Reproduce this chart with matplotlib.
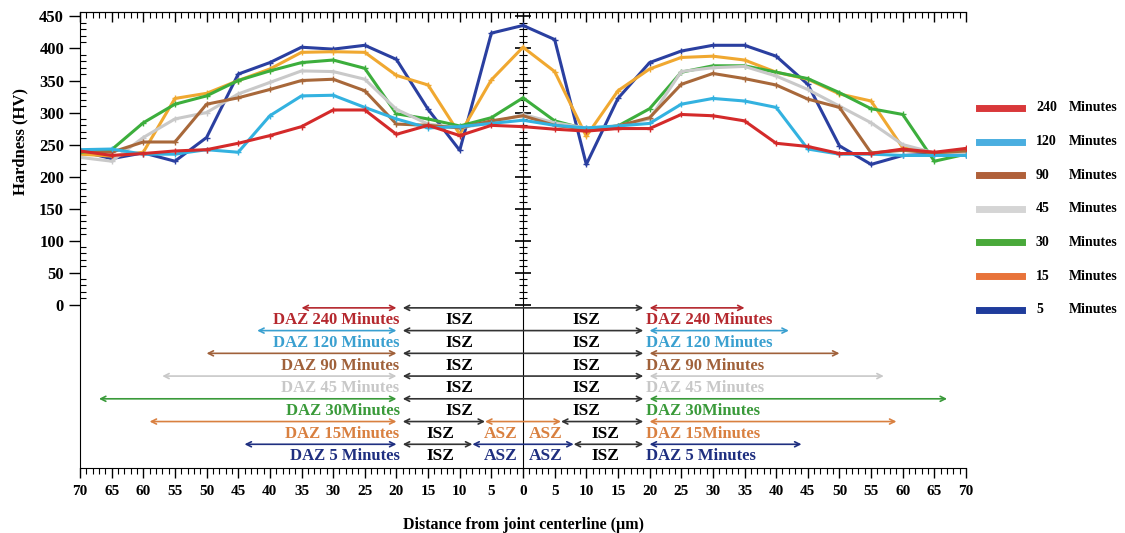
import numpy as np
import matplotlib
matplotlib.use("Agg")
import matplotlib.pyplot as plt
from matplotlib.ticker import MultipleLocator, FuncFormatter
from matplotlib.lines import Line2D

plt.rcParams["font.family"] = ["Liberation Serif", "DejaVu Serif"]
plt.rcParams["font.weight"] = "bold"

# distanza dal centro del giunto (um), un punto ogni 5
distance = list(range(-70, 71, 5))

hv_240 = [240, 233, 236, 240, 242, 252, 264, 278, 304, 304, 266, 280, 264, 280, 278,
          274, 271, 275, 275, 297, 295, 287, 252, 247, 236, 236, 243, 238, 244]
hv_120 = [242, 243, 235, 235, 242, 238, 295, 326, 327, 308, 290, 276, 278, 283, 288,
          280, 276, 279, 283, 313, 322, 318, 308, 243, 235, 235, 233, 233, 233]
hv_90 = [240, 238, 254, 254, 313, 323, 336, 350, 352, 334, 282, 280, 276, 287, 295,
         280, 274, 279, 292, 344, 361, 353, 343, 321, 308, 237, 241, 237, 240]
hv_45 = [230, 224, 261, 290, 300, 329, 347, 365, 364, 352, 305, 282, 276, 284, 297,
         284, 276, 279, 290, 364, 370, 372, 357, 336, 310, 284, 250, 237, 237]
hv_30 = [238, 242, 284, 313, 326, 350, 365, 378, 382, 369, 298, 290, 279, 292, 323,
         287, 274, 279, 306, 363, 373, 373, 363, 353, 331, 306, 297, 224, 235]
hv_15 = [235, 232, 238, 322, 330, 350, 368, 394, 395, 394, 358, 343, 266, 351, 402,
         364, 263, 334, 368, 386, 388, 382, 363, 352, 329, 318, 245, 237, 240]
hv_5 = [240, 228, 237, 224, 261, 360, 378, 402, 399, 405, 383, 305, 241, 424, 436,
        414, 219, 322, 378, 396, 405, 405, 388, 344, 248, 219, 233, 235, 233]

times = ["240", "120", "90", "45", "30", "15", "5"]
series = [hv_240, hv_120, hv_90, hv_45, hv_30, hv_15, hv_5]
line_colors = ["#d42a2a", "#33b2e0", "#a8683a", "#c9c9c9", "#3cae3c", "#f0a830", "#2a3fa0"]
legend_colors = ["#d9383a", "#4aaee0", "#b0603a", "#d5d5d5", "#49a93a", "#e8733a", "#1f3c9c"]
text_colors = ["#b5282e", "#3aa0d0", "#a0613a", "#c8c8c8", "#3a9a3a", "#d98040", "#1f2f80"]

# zone sotto lo zero: estensione della DAZ e semi-ampiezza della ASZ (0 = assente)
daz_labels = ["DAZ 240 Minutes", "DAZ 120 Minutes", "DAZ 90 Minutes", "DAZ 45 Minutes",
              "DAZ 30Minutes", "DAZ 15Minutes", "DAZ 5 Minutes"]
daz_outer = [35, 42, 50, 57, 67, 59, 44]
isz_edge = 20
asz_half = [0, 0, 0, 0, 0, 6, 8]

fig = plt.figure(figsize=(11.25, 5.33), dpi=100)
ax = fig.add_axes([0.0711, 0.122, 0.7876, 0.8555])

for ys, c in zip(series[::-1], line_colors[::-1]):
    ax.plot(distance, ys, color=c, lw=2.2, marker="+", ms=4, mew=1)

ax.set_xlim(-70, 70)
ax.set_ylim(-255, 457)

# asse x: tacche sotto (fuori), sopra (dentro) con un asse secondario
ax.xaxis.set_major_locator(MultipleLocator(5))
ax.xaxis.set_minor_locator(MultipleLocator(1))
ax.xaxis.set_major_formatter(FuncFormatter(lambda v, p: f"{abs(int(round(v)))}"))
ax.tick_params(axis="x", which="major", direction="out", length=7, width=1,
               labelsize=11, pad=5)
ax.tick_params(axis="x", which="minor", direction="out", length=4, width=0.8)
ax.set_yticks(range(0, 451, 50))
ax.set_yticks([v for v in range(0, 451, 10) if v % 50], minor=True)
ax.tick_params(axis="y", which="major", direction="out", length=8, width=1, labelsize=12)
ax.tick_params(axis="y", which="minor", direction="in", length=4, width=0.8)
ax.spines["right"].set_visible(False)

top = ax.secondary_xaxis("top")
top.xaxis.set_major_locator(MultipleLocator(5))
top.xaxis.set_minor_locator(MultipleLocator(1))
top.tick_params(which="major", direction="in", length=7, width=1, labeltop=False)
top.tick_params(which="minor", direction="in", length=4, width=0.8)

# linea centrale del giunto con tacche
mid = ax.secondary_yaxis(0.5)
mid.set_yticks(range(0, 451, 50))
mid.set_yticks([v for v in range(0, 451, 10) if v % 50], minor=True)
mid.tick_params(which="major", direction="inout", length=11, width=1.2,
                labelleft=False, labelright=False)
mid.tick_params(which="minor", direction="inout", length=6, width=0.8)

ax.set_ylabel("Hardness (HV)", fontsize=12, fontweight="bold")
ax.yaxis.set_label_coords(-0.058, 0.715)
ax.set_xlabel("Distance from joint centerline (\u00b5m)", fontsize=11.5,
              fontweight="bold", labelpad=14)

# frecce e scritte delle zone
for i, lab in enumerate(daz_labels):
    ya = -5 - 35.5 * i
    yt = ya - 19
    c = text_colors[i]
    arrow = dict(arrowstyle="<->", color=c, lw=1.2, shrinkA=0, shrinkB=0, mutation_scale=9)
    black = dict(arrow, color="#333333")
    for s in (-1, 1):
        ax.annotate("", xy=(s * daz_outer[i], ya), xytext=(s * isz_edge, ya), arrowprops=arrow)
    ax.text(-19.5, yt, lab, color=c, ha="right", va="center", fontsize=12, fontweight="bold")
    ax.text(19.5, yt, lab, color=c, ha="left", va="center", fontsize=12, fontweight="bold")
    h = asz_half[i]
    if h == 0:
        ax.annotate("", xy=(isz_edge - 1, ya), xytext=(-isz_edge + 1, ya), arrowprops=black)
        for s in (-1, 1):
            ax.text(s * 10, yt, "ISZ", color="black", ha="center", va="center",
                    fontsize=12.5, fontweight="bold")
    else:
        for s in (-1, 1):
            ax.annotate("", xy=(s * (isz_edge - 1), ya), xytext=(s * h, ya), arrowprops=black)
            ax.text(s * 13, yt, "ISZ", color="black", ha="center", va="center",
                    fontsize=12.5, fontweight="bold")
            ax.text(s * 3.6, yt, "ASZ", color=c, ha="center", va="center",
                    fontsize=12.5, fontweight="bold")
        ax.annotate("", xy=(h, ya), xytext=(-h, ya), arrowprops=arrow)

# legenda a destra, fuori dagli assi
for i, (t, c) in enumerate(zip(times, legend_colors)):
    yy = 1 - (108 + 33.6 * i) / 533
    fig.add_artist(Line2D([979 / 1125, 1022 / 1125], [yy, yy], color=c, lw=5,
                          transform=fig.transFigure))
    fig.text(1036 / 1125, yy, t, ha="left", va="center", fontsize=10, fontweight="bold")
    fig.text(1069 / 1125, yy, "Minutes", ha="left", va="center", fontsize=10,
             fontweight="bold")

fig.savefig("out.png", dpi=100)
